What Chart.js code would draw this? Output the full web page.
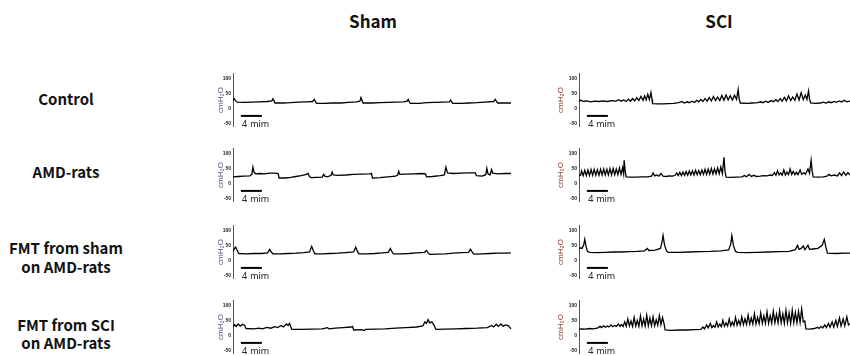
<!DOCTYPE html>
<html>
<head>
<meta charset="utf-8">
<script src="https://cdn.jsdelivr.net/npm/chart.js@4.4.0/dist/chart.umd.min.js"></script>
<style>
  body { margin: 0; background: #fff; }
  #wrap { position: relative; width: 850px; height: 356px; overflow: hidden; font-family: "Noto Sans CJK KR", "Noto Sans", sans-serif; }
  .lbl { position: absolute; left: 0; width: 132px; text-align: center; font-weight: 700; font-size: 15px; line-height: 19px; color: #111; }
  .head { position: absolute; top: 8px; font-weight: 700; font-size: 17px; color: #111; text-align: center; width: 100px; }
  canvas { position: absolute; }
</style>
</head>
<body>
<div id="wrap">
  <div class="head" style="left:323px">Sham</div>
  <div class="head" style="left:669px">SCI</div>
  <div class="lbl" style="top:89px">Control</div>
  <div class="lbl" style="top:162px">AMD-rats</div>
  <div class="lbl" style="top:238px">FMT from sham<br>on AMD-rats</div>
  <div class="lbl" style="top:316px;line-height:18px">FMT from SCI<br>on AMD-rats</div>
  <canvas id="c1" width="296" height="54" style="left:216px;top:73px"></canvas>
  <canvas id="c2" width="294" height="54" style="left:556px;top:73px"></canvas>
  <canvas id="c3" width="296" height="54" style="left:216px;top:148px"></canvas>
  <canvas id="c4" width="294" height="54" style="left:556px;top:148px"></canvas>
  <canvas id="c5" width="296" height="54" style="left:216px;top:225px"></canvas>
  <canvas id="c6" width="294" height="54" style="left:556px;top:225px"></canvas>
  <canvas id="c7" width="296" height="54" style="left:216px;top:300px"></canvas>
  <canvas id="c8" width="294" height="54" style="left:556px;top:300px"></canvas>
</div>
<script>
// cystometry traces: [minute, cmH2O]
var yTicks = [-50, 0, 50, 100];
var scaleBar = [[1.5, -25], [5.5, -25]]; // 4 min

var controlSham = [[0,24],[0.2,33],[0.5,26],[0.8,21],[2,20],[3.5,21],[5,22],[6.5,23],[7.4,25],[7.6,32],[7.8,26],[8,18],[9.5,18],[11,19],[12.5,21],[14,22],[15.2,23],[15.5,30],[15.7,24],[15.9,17],[17.5,17],[19,18],[20.5,18],[22,20],[23.5,22],[24.2,24],[24.4,36],[24.6,27],[24.8,18],[26.5,18],[28,19],[29.5,20],[31,21],[32.5,22],[33.2,24],[33.4,30],[33.6,22],[33.8,17],[35.5,17],[37,19],[38.5,20],[40,21],[41.3,22],[41.5,28],[41.7,22],[41.9,17],[43.5,17],[45,18],[46.5,19],[48,21],[49.7,23],[50,30],[50.2,24],[50.5,18],[52,18],[53,18]];

var controlSci = [[0,22],[0.3,28],[0.8,23],[1.5,25],[2.2,22],[3,24],[3.8,23],[4.6,25],[5.4,23],[6.2,26],[7,24],[7.6,29],[8,24],[8.5,28],[9,23],[9.4,31],[9.8,24],[10.2,33],[10.6,25],[11,36],[11.4,26],[11.8,40],[12.2,27],[12.5,42],[12.8,28],[13.1,47],[13.4,30],[13.7,53],[13.9,30],[14,16],[15,15],[16,15],[17,16],[18,17],[19,19],[19.6,23],[20,18],[20.6,22],[21,19],[21.5,24],[22,20],[22.4,27],[22.8,22],[23.2,30],[23.6,23],[24,33],[24.4,24],[24.8,36],[25.2,25],[25.6,40],[26,26],[26.4,38],[26.8,26],[27.2,43],[27.6,27],[28,45],[28.4,28],[28.8,42],[29.2,28],[29.6,44],[30,30],[30.3,63],[30.5,32],[30.7,18],[32,17],[33,18],[34,19],[34.6,22],[35,19],[35.6,24],[36,20],[36.6,26],[37,22],[37.5,29],[37.9,23],[38.3,33],[38.7,24],[39.1,37],[39.5,25],[39.9,42],[40.3,26],[40.7,38],[41.1,27],[41.5,48],[41.9,28],[42.3,52],[42.7,29],[43.1,45],[43.4,30],[43.7,58],[43.9,30],[44.1,18],[45,17],[46,18],[46.5,21],[47,18],[47.6,22],[48,19],[48.6,23],[49,20],[49.6,25],[50,21],[50.5,27],[51,22],[51.6,24]];

var amdSham = [[0,22],[1,23],[2,24],[3.2,25],[3.6,30],[3.8,54],[4.0,38],[4.3,32],[5,33],[6,32],[7,34],[8,34],[8.6,33],[8.8,18],[10,18],[11,20],[12,23],[13,26],[14,30],[14.3,34],[14.6,22],[15,19],[16,20],[17,21],[17.3,30],[17.5,24],[18,22],[18.7,27],[18.9,38],[19.1,28],[20,27],[21.5,28],[23,30],[24.5,31],[26,32],[26.4,33],[26.6,18],[28,19],[29.5,22],[31,24],[31.4,28],[31.6,40],[31.8,30],[33,31],[34.5,32],[36,33],[36.7,32],[36.9,22],[38,23],[39.5,26],[40.3,28],[40.6,54],[40.9,35],[42,33],[43.5,34],[45,35],[46.2,35],[46.4,26],[47.5,24],[48.2,29],[48.4,50],[48.6,33],[49,28],[49.3,46],[49.5,34],[50.5,32],[52,33],[53,33]];

var amdSci = [[0,25],[0.3,27],[0.5,42],[0.8,26],[1.1,44],[1.4,26],[1.7,45],[2,26],[2.3,46],[2.6,27],[2.9,47],[3.2,27],[3.5,46],[3.8,27],[4.1,47],[4.4,28],[4.7,48],[5,28],[5.3,47],[5.6,28],[5.9,49],[6.2,28],[6.5,50],[6.8,29],[7.1,48],[7.4,29],[7.7,52],[8,30],[8.3,53],[8.5,32],[8.6,77],[8.8,40],[9,22],[10,21],[11,21],[12,22],[13,22],[13.8,24],[14.1,35],[14.4,25],[14.8,28],[15.2,24],[15.6,33],[16,24],[16.6,23],[17.2,25],[17.8,24],[18.3,27],[18.6,35],[18.9,26],[19.2,37],[19.5,26],[19.8,38],[20.1,27],[20.4,40],[20.7,27],[21,41],[21.3,28],[21.6,42],[21.9,28],[22.2,44],[22.5,29],[22.8,43],[23.1,29],[23.4,45],[23.7,30],[24,47],[24.3,30],[24.6,48],[24.9,31],[25.2,50],[25.5,31],[25.8,49],[26.1,32],[26.4,52],[26.7,32],[27,55],[27.3,33],[27.6,87],[27.8,40],[28,21],[29,20],[30,21],[31,22],[31.5,26],[31.9,22],[32.4,30],[32.8,23],[33.3,27],[33.8,23],[34.5,24],[35.2,26],[35.8,25],[36.4,28],[36.8,26],[37.2,36],[37.5,27],[37.8,42],[38.1,28],[38.4,35],[38.7,27],[39,45],[39.3,28],[39.6,38],[39.9,29],[40.2,48],[40.5,30],[40.8,40],[41.1,29],[41.4,37],[41.7,29],[42.1,45],[42.4,30],[42.8,36],[43.1,30],[43.6,48],[43.9,34],[44.2,77],[44.4,40],[44.6,22],[45.5,21],[46.5,22],[47.2,24],[47.6,30],[48,25],[48.6,28],[49.2,25],[49.6,35],[50,26],[50.4,38],[50.8,27],[51.2,36],[51.6,28]];

var fmtShamSham = [[0,30],[0.3,40],[0.5,44],[0.8,33],[1.1,23],[2.5,22],[4,23],[5.5,23],[6.6,25],[7,37],[7.3,28],[7.6,22],[9,22],[10.5,23],[12,24],[13.5,26],[14.6,28],[15,47],[15.3,33],[15.6,22],[17,22],[18.5,23],[20,24],[21.5,26],[23,28],[23.4,44],[23.7,31],[24,22],[25.5,22],[27,23],[28.5,25],[29.6,27],[30,40],[30.3,29],[30.6,22],[32,22],[33.5,23],[35,25],[36.5,27],[36.9,33],[37.2,25],[37.5,20],[39,21],[40.5,22],[42,24],[43.5,26],[44.9,27],[45.3,37],[45.6,28],[45.9,21],[47.5,22],[49,23],[50.5,24],[52,24],[53,25]];

var fmtShamSci = [[0,38],[0.3,42],[0.6,40],[0.9,52],[1.1,70],[1.3,50],[1.6,30],[2,27],[3.5,26],[5,27],[6.5,28],[8,28],[9.5,29],[11,30],[12.5,32],[13,40],[13.3,33],[14.5,34],[15.5,40],[15.8,60],[16,83],[16.3,50],[16.7,30],[17,27],[19,27],[21,28],[23,29],[25,30],[27,32],[28.5,35],[28.9,55],[29.1,83],[29.4,50],[29.8,30],[30.2,27],[32,26],[34,27],[36,28],[38,29],[40,30],[41.2,36],[41.6,50],[41.9,37],[42.3,40],[42.7,48],[43,36],[43.6,50],[43.9,37],[44.5,38],[45.5,40],[46.3,50],[46.7,70],[47,45],[47.3,24],[49,23],[50.5,24],[51.6,24]];

var fmtSciSham = [[0,28],[0.3,36],[0.6,30],[1,38],[1.4,31],[1.8,37],[2.2,34],[2.5,23],[4,22],[5,24],[5.6,22],[6.5,27],[7.2,24],[8,29],[8.5,26],[9.2,33],[9.6,28],[10.2,38],[10.5,33],[10.8,40],[11,30],[11.2,20],[13,20],[15,21],[17,22],[18,26],[18.3,22],[19.5,24],[21,26],[22.5,28],[22.8,30],[23,18],[24.5,19],[25,16],[25.3,20],[27,21],[29,22],[31,24],[33,26],[35,28],[36.2,32],[36.6,45],[36.9,40],[37.2,53],[37.5,42],[37.9,45],[38.3,35],[38.7,20],[40.5,21],[42.5,22],[44.5,23],[46.5,24],[48.5,26],[49.3,33],[49.7,28],[50.2,37],[50.6,30],[51.1,38],[51.5,31],[52,35],[52.5,33],[53,22]];

var fmtSciSci = [[0,20],[0.5,22],[1.2,21],[2,23],[2.8,22],[3.6,25],[4,30],[4.3,26],[4.7,32],[5,27],[5.4,31],[5.7,28],[6.1,35],[6.4,29],[6.8,33],[7.1,30],[7.5,38],[7.8,30],[8.1,36],[8.4,30],[8.7,45],[9,31],[9.3,55],[9.6,32],[9.9,48],[10.2,30],[10.5,60],[10.8,31],[11.1,50],[11.4,30],[11.7,65],[12,32],[12.3,55],[12.6,31],[12.9,67],[13.2,32],[13.5,58],[13.8,33],[14.1,62],[14.4,32],[14.7,52],[15,34],[15.3,66],[15.6,36],[15.9,60],[16.2,38],[16.4,18],[17.5,17],[19,18],[20.5,18],[22,19],[23.2,20],[23.6,28],[23.9,22],[24.3,35],[24.6,25],[25,40],[25.3,26],[25.6,33],[25.9,27],[26.2,45],[26.5,28],[26.8,38],[27.1,29],[27.4,50],[27.7,30],[28,42],[28.3,31],[28.6,55],[28.9,32],[29.2,45],[29.5,33],[29.8,60],[30.1,34],[30.4,50],[30.7,35],[31,62],[31.3,36],[31.6,55],[31.9,37],[32.2,68],[32.5,38],[32.8,58],[33.1,38],[33.4,72],[33.7,38],[34,60],[34.3,39],[34.6,75],[34.9,40],[35.2,65],[35.5,40],[35.8,78],[36.1,40],[36.4,66],[36.7,41],[37,80],[37.3,42],[37.6,70],[37.9,42],[38.2,82],[38.5,42],[38.8,72],[39.1,40],[39.4,83],[39.7,42],[40,75],[40.3,40],[40.6,84],[40.9,42],[41.2,76],[41.5,42],[41.8,80],[42.1,43],[42.4,88],[42.7,45],[43,48],[43.2,22],[44,21],[44.8,23],[45.4,27],[45.7,23],[46.1,30],[46.4,25],[46.8,35],[47.1,26],[47.5,40],[47.8,27],[48.2,45],[48.5,28],[48.9,50],[49.2,30],[49.6,58],[49.9,31],[50.3,55],[50.6,32],[51,62],[51.3,35],[51.6,40]];

var toXY = function (arr) { return arr.map(function (p) { return { x: p[0], y: p[1] }; }); };

// "4 mim" under the scale bar
var barLabel = {
  id: 'barLabel',
  afterDatasetsDraw: function (chart) {
    var c = chart.ctx;
    c.save();
    c.font = '10px Arial';
    c.fillStyle = '#333';
    c.textBaseline = 'middle';
    c.fillText('4 mim', chart.scales.x.getPixelForValue(scaleBar[0][0]) + 1, chart.scales.y.getPixelForValue(-55));
    c.restore();
  }
};

function panel(id, trace, xMax, axisW, labelColor) {
  new Chart(document.getElementById(id).getContext('2d'), {
    type: 'line',
    data: {
      datasets: [
        { data: toXY(trace), borderColor: '#000', borderWidth: 1.3, pointRadius: 0, tension: 0 },
        { data: toXY(scaleBar), borderColor: '#000', borderWidth: 2, pointRadius: 0 }
      ]
    },
    options: {
      responsive: false,
      animation: false,
      events: [],
      layout: { padding: 0 },
      plugins: { legend: { display: false }, tooltip: { enabled: false } },
      scales: {
        x: { type: 'linear', min: 0, max: xMax, display: false },
        y: {
          min: -62, max: 118,
          afterBuildTicks: function (s) { s.ticks = yTicks.map(function (v) { return { value: v }; }); },
          afterFit: function (s) { s.width = axisW; s.paddingTop = 0; s.paddingBottom = 0; },
          grid: { display: false, drawTicks: false },
          border: { display: true, color: '#555', width: 1 },
          ticks: { font: { size: 5, weight: 'bold' }, color: '#222', padding: 2 },
          title: { display: true, text: 'cmH₂O', color: labelColor, font: { size: 8 }, padding: 0 }
        }
      }
    },
    plugins: [barLabel]
  });
}

var leftColor = '#5e4f7a', rightColor = '#8a3d2e';
panel('c1', controlSham, 53.2, 17, leftColor);
panel('c2', controlSci, 51.6, 23, rightColor);
panel('c3', amdSham, 53.2, 17, leftColor);
panel('c4', amdSci, 51.6, 23, rightColor);
panel('c5', fmtShamSham, 53.2, 17, leftColor);
panel('c6', fmtShamSci, 51.6, 23, rightColor);
panel('c7', fmtSciSham, 53.2, 17, leftColor);
panel('c8', fmtSciSci, 51.6, 23, rightColor);
</script>
</body>
</html>
